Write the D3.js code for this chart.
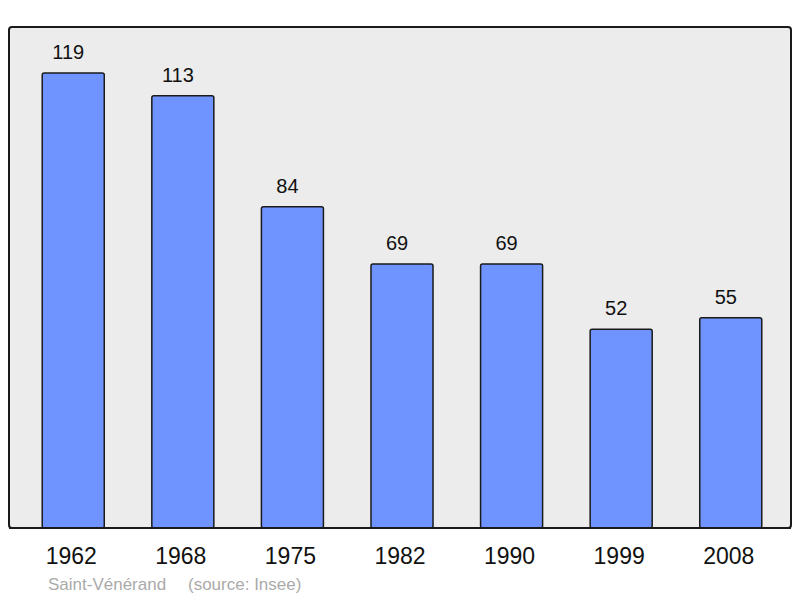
<!DOCTYPE html>
<html>
<head>
<meta charset="utf-8">
<script src="https://d3js.org/d3.v7.min.js"></script>
<style>
  body { margin: 0; background: #fff; }
  text { font-family: "Liberation Sans", Arial, sans-serif; }
</style>
</head>
<body>
<script>
// population by census year
var years = ["1962", "1968", "1975", "1982", "1990", "1999", "2008"];
var population = [119, 113, 84, 69, 69, 52, 55];
var commune = "Saint-Vénérand";
var source = "(source: Insee)";

var width = 800, height = 598;
var plot = {left: 9, top: 27, right: 791, bottom: 528};

var svg = d3.select("body").append("svg")
    .attr("width", width)
    .attr("height", height);

var x = d3.scaleBand()
    .domain(years)
    .range([plot.left + 2, plot.right + 2])
    .paddingInner(0.434)
    .paddingOuter(0.285);

var y = d3.scaleLinear()
    .domain([0, 131])
    .range([plot.bottom, plot.top]);

// frame
svg.append("rect")
    .attr("x", plot.left)
    .attr("y", plot.top)
    .attr("width", plot.right - plot.left)
    .attr("height", plot.bottom - plot.top)
    .attr("rx", 3)
    .attr("fill", "#ececec")
    .attr("stroke", "#1a1a1a")
    .attr("stroke-width", 2);

var bars = svg.selectAll("g.bar")
    .data(years)
    .enter().append("g")
    .attr("class", "bar");

bars.append("rect")
    .attr("x", d => x(d))
    .attr("y", (d, i) => y(population[i]))
    .attr("width", x.bandwidth())
    .attr("height", (d, i) => y(0) - y(population[i]))
    .attr("rx", 2)
    .attr("fill", "#7094ff")
    .attr("stroke", "#1a1a1a")
    .attr("stroke-width", 1.5);

// value labels sit a little left of the bar centre in the original
bars.append("text")
    .attr("x", d => x(d) + x.bandwidth() / 2 - 5)
    .attr("y", (d, i) => y(population[i]) - 14)
    .attr("text-anchor", "middle")
    .attr("font-size", 20)
    .attr("fill", "#111")
    .text((d, i) => population[i]);

// redraw bottom edge over bars
svg.append("line")
    .attr("x1", plot.left).attr("x2", plot.right)
    .attr("y1", plot.bottom).attr("y2", plot.bottom)
    .attr("stroke", "#1a1a1a")
    .attr("stroke-width", 2);

svg.selectAll("text.year")
    .data(years)
    .enter().append("text")
    .attr("class", "year")
    .attr("x", d => x(d) + x.bandwidth() / 2 - 2)
    .attr("y", 564)
    .attr("text-anchor", "middle")
    .attr("font-size", 23)
    .attr("fill", "#111")
    .text(d => d);

svg.append("text")
    .attr("x", 48)
    .attr("y", 590)
    .attr("font-size", 17)
    .attr("fill", "#aaaaaa")
    .text(commune);

svg.append("text")
    .attr("x", 188)
    .attr("y", 590)
    .attr("font-size", 17)
    .attr("fill", "#aaaaaa")
    .text(source);
</script>
</body>
</html>
